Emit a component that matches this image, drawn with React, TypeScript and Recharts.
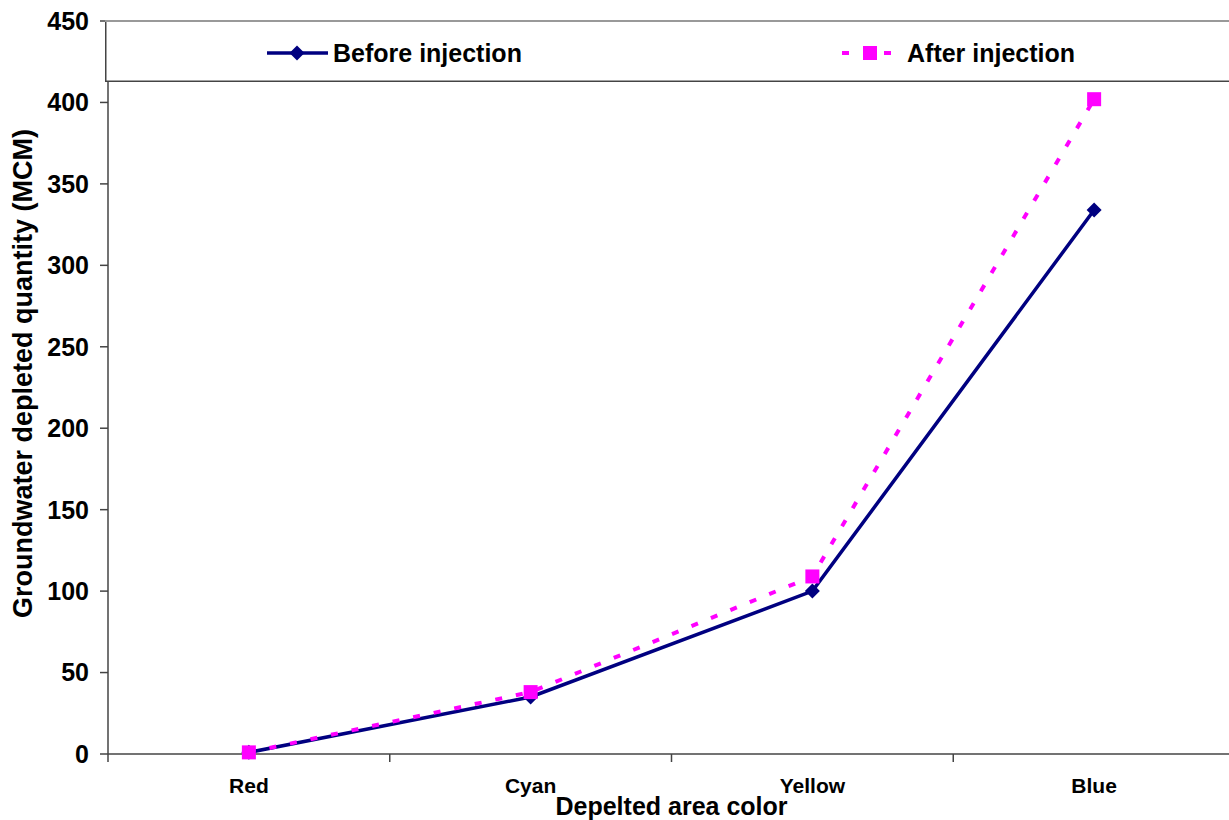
import React from 'react';
import { Legend, Line, LineChart, XAxis, YAxis } from 'recharts';

const categories = ['Red', 'Cyan', 'Yellow', 'Blue'];
const beforeInjection = [1, 35, 100, 334];
const afterInjection = [1, 38, 109, 402];
const yTicks = [0, 50, 100, 150, 200, 250, 300, 350, 400, 450];
const xTicks = [-0.5, 0, 0.5, 1, 1.5, 2, 2.5, 3, 3.5];

const seriesNames = { before: 'Before injection', after: 'After injection' };

const data = categories.map((name, i) => ({
  x: i,
  name,
  before: beforeInjection[i],
  after: afterInjection[i],
}));

const FONT = '"Liberation Sans", Arial, sans-serif';
const NAVY = '#000080';
const MAGENTA = '#FF00FF';
const AXIS = '#444';

const Diamond = (props: any) => {
  const { cx, cy } = props;
  if (cx == null || cy == null) return null;
  const r = 7.5;
  return <polygon points={`${cx},${cy - r} ${cx + r},${cy} ${cx},${cy + r} ${cx - r},${cy}`} fill={NAVY} />;
};

const Square = (props: any) => {
  const { cx, cy } = props;
  if (cx == null || cy == null) return null;
  const s = 14;
  return <rect x={cx - s / 2} y={cy - s / 2} width={s} height={s} fill={MAGENTA} />;
};

const XTick = (props: any) => {
  const { x, y, payload } = props;
  const v = payload.value;
  if (Number.isInteger(v)) {
    return (
      <text x={x} y={y} dy={31} textAnchor="middle" fontFamily={FONT} fontWeight="bold" fontSize={21} fill="#000">
        {categories[v]}
      </text>
    );
  }
  return <line x1={x} x2={x} y1={y - 8} y2={y} stroke={AXIS} strokeWidth={1.5} />;
};

const LegendBox = () => (
  <svg width={1140} height={62} style={{ display: 'block' }}>
    <rect x={0.75} y={1} width={1138} height={60.25} fill="#fff" stroke={AXIS} strokeWidth={1.5} />
    <line x1={0} x2={1140} y1={1} y2={1} stroke="#999" strokeWidth={2} />
    <line x1={162} x2={223} y1={33} y2={33} stroke={NAVY} strokeWidth={3.5} />
    <Diamond cx={192} cy={33} />
    <text x={228} y={42} fontFamily={FONT} fontWeight="bold" fontSize={25} fill="#000">
      {seriesNames.before}
    </text>
    <line x1={737} x2={787} y1={33} y2={33} stroke={MAGENTA} strokeWidth={4} strokeDasharray="7 14" />
    <Square cx={765} cy={33} />
    <text x={802} y={42} fontFamily={FONT} fontWeight="bold" fontSize={25} fill="#000">
      {seriesNames.after}
    </text>
  </svg>
);

export default function App() {
  return (
    <div style={{ position: 'absolute', left: 0, top: 0, width: 1229, height: 820, overflow: 'hidden', background: '#fff' }}>
      <LineChart width={1240} height={820} data={data} margin={{ top: 21, right: 5, bottom: 26, left: 0 }}>
        <XAxis
          dataKey="x"
          type="number"
          domain={[-0.5, 3.5]}
          ticks={xTicks}
          interval={0}
          height={40}
          stroke={AXIS}
          strokeWidth={1.5}
          tickLine={false}
          tickSize={8}
          tickMargin={0}
          tick={<XTick />}
          label={({ viewBox }: any) => (
            <text
              x={viewBox.x + viewBox.width / 2}
              y={viewBox.y + 61}
              textAnchor="middle"
              fontFamily={FONT}
              fontWeight="bold"
              fontSize={25}
              fill="#000"
            >
              Depelted area color
            </text>
          )}
        />
        <YAxis
          type="number"
          domain={[0, 450]}
          ticks={yTicks}
          interval={0}
          width={108}
          stroke={AXIS}
          strokeWidth={1.5}
          tickSize={8}
          tickMargin={11}
          tick={{ fontFamily: FONT, fontWeight: 'bold', fontSize: 25, fill: '#000' }}
          label={({ viewBox }: any) => {
            const cx = 32;
            const cy = viewBox.y + viewBox.height / 2 - 14;
            return (
              <text
                x={cx}
                y={cy}
                transform={`rotate(-90, ${cx}, ${cy})`}
                textAnchor="middle"
                fontFamily={FONT}
                fontWeight="bold"
                fontSize={27}
                fill="#000"
              >
                Groundwater depleted quantity (MCM)
              </text>
            );
          }}
        />
        <Legend
          layout="horizontal"
          verticalAlign="middle"
          align="center"
          wrapperStyle={{ position: 'absolute', left: 105, top: 20, width: 1140, height: 62 }}
          content={() => <LegendBox />}
        />
        <Line
          type="linear"
          dataKey="before"
          name={seriesNames.before}
          stroke={NAVY}
          strokeWidth={3.5}
          dot={<Diamond />}
          activeDot={false}
          isAnimationActive={false}
        />
        <Line
          type="linear"
          dataKey="after"
          name={seriesNames.after}
          stroke={MAGENTA}
          strokeWidth={4}
          strokeDasharray="7 14"
          dot={<Square />}
          activeDot={false}
          isAnimationActive={false}
        />
      </LineChart>
    </div>
  );
}
